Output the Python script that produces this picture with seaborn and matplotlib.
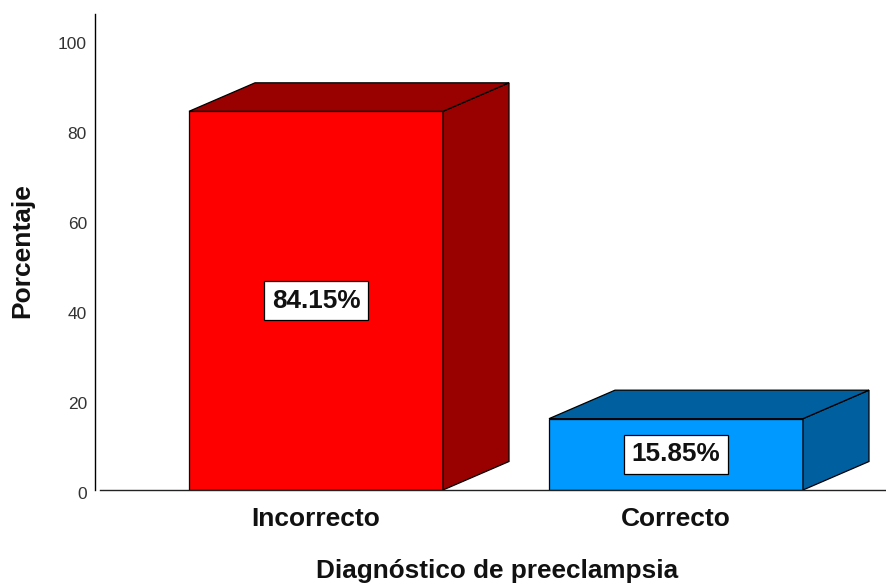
import matplotlib
matplotlib.use("Agg")
import matplotlib.pyplot as plt
from matplotlib.patches import Polygon
from matplotlib.transforms import ScaledTranslation
import pandas as pd
import seaborn as sns

categories = ["Incorrecto", "Correcto"]
percent = [84.15, 15.85]
front_colors = ["#FF0000", "#0099FF"]
shade_colors = ["#990000", "#005F9F"]
y_ticks = [0, 20, 40, 60, 80, 100]

W, H, DPI = 887, 583, 100
DEPTH_X = 66 / 360
DEPTH_Y = 28.5 / 4.5
EDGE = 0.9

sns.set_theme(style="white")
plt.rcParams["font.family"] = ["Liberation Sans", "DejaVu Sans"]

fig = plt.figure(figsize=(W / DPI, H / DPI), dpi=DPI)
ax = fig.add_axes([100 / W, 1 - 490 / H, 787 / W, 476 / H])

df = pd.DataFrame({"cat": categories, "pct": percent})
sns.barplot(data=df, x="cat", y="pct", hue="cat", palette=front_colors, dodge=False,
            width=254 / 360, saturation=1, legend=False, edgecolor="black", linewidth=EDGE, ax=ax)

# fake 3d: side and top faces built off each bar
for bars, shade in zip(ax.containers, shade_colors):
    for bar in bars:
        x0, x1, h = bar.get_x(), bar.get_x() + bar.get_width(), bar.get_height()
        side = [(x1, 0), (x1 + DEPTH_X, DEPTH_Y), (x1 + DEPTH_X, h + DEPTH_Y), (x1, h)]
        top = [(x0, h), (x0 + DEPTH_X, h + DEPTH_Y), (x1 + DEPTH_X, h + DEPTH_Y), (x1, h)]
        for pts in (side, top):
            ax.add_patch(Polygon(pts, closed=True, facecolor=shade, edgecolor="black",
                                 linewidth=EDGE, zorder=bar.get_zorder()))

for bars, val in zip(ax.containers, percent):
    ax.bar_label(bars, labels=[f"{val:.2f}%"], label_type="center", fontsize=18.8, fontweight="bold",
                 color="#111111", zorder=6,
                 bbox=dict(boxstyle="square,pad=0.28", facecolor="white", edgecolor="black", linewidth=0.9))

ax.set_xlim(-0.6, 571 / 360)
ax.set_ylim(0, 476 / 4.5)
ax.set_yticks(y_ticks)
ax.spines["top"].set_visible(False)
ax.spines["right"].set_visible(False)
ax.spines["left"].set_position(("outward", 3.6))
ax.spines["left"].set_color("black")
ax.spines["bottom"].set_color("#222222")
ax.spines["left"].set_linewidth(1.0)
ax.spines["bottom"].set_linewidth(1.0)
ax.tick_params(axis="y", length=0, pad=5.8, labelsize=12.5, labelcolor="#333333")
ax.tick_params(axis="x", length=0, pad=12, labelsize=19, labelcolor="#111111")
for lab in ax.get_xticklabels():
    lab.set_fontweight("bold")
shift = ScaledTranslation(0, -3 / DPI, fig.dpi_scale_trans)
for lab in ax.get_yticklabels():
    lab.set_transform(lab.get_transform() + shift)

ax.set_xlabel("Diagnóstico de preeclampsia", fontsize=18.8, fontweight="bold", color="#111111", va="center")
ax.set_ylabel("Porcentaje", fontsize=19, fontweight="bold", color="#111111", va="center")
ax.xaxis.set_label_coords(397 / 787, -81 / 476)
ax.yaxis.set_label_coords(-78 / 787, 0.503)

fig.savefig("out.png", dpi=DPI)
